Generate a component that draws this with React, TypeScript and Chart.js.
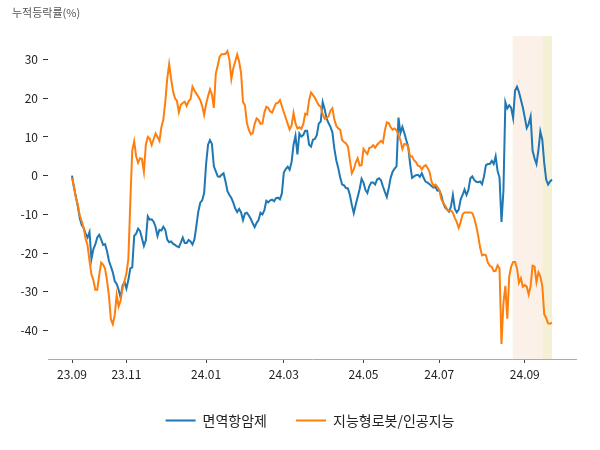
import React, { useEffect, useRef } from 'react';
import { Chart, registerables } from 'chart.js';

Chart.register(...registerables);

// x-axis: trading-day index of each month label
const tickIndex = [0, 28, 69, 109, 150, 189, 233];
const tickLabels = ['23.09', '23.11', '24.01', '24.03', '24.05', '24.07', '24.09'];
const yTicks = [-40, -30, -20, -10, 0, 10, 20, 30];
const seriesNames = ['면역항암제', '지능형로봇/인공지능'];
const axisTitle = '누적등락률(%)';

// highlighted periods (index ranges)
const bandStart = [226.8, 242];
const bandEnd = [242, 247];

const immune = [
  0, -3, -5.5, -8, -11, -12.8, -13.5, -15, -16, -14.6,
  -21.6, -19, -17.8, -16, -15.3, -16.5, -17.9, -17.7, -19.5, -22,
  -23.5, -25, -27.3, -28, -29.5, -31.5, -28.5, -27.5, -29.2, -27,
  -24, -23.7, -15.6, -15, -13.7, -14.3, -16.2, -18.2, -16.7, -10.5,
  -11.4, -11.3, -11.9, -13.2, -15.6, -14, -14.2, -13.2, -14, -16.5,
  -17.2, -17, -17.6, -17.9, -18.3, -18.5, -17.3, -16, -17.4, -17.4,
  -16.6, -17, -17.8, -16.5, -13, -9.3, -7, -6.4, -4.5, 3,
  8, 9.2, 8.2, 2.4, 1.1, -0.2, -0.3, 0.2, 0.6, -1.5,
  -4, -5, -5.8, -7, -8.5, -9.4, -8.6, -9.5, -11.5, -9.8,
  -9.6, -10.3, -11.2, -12.3, -13.3, -12.2, -11.5, -9.6, -10, -8.9,
  -6.5, -6.9, -6.4, -6.2, -6.6, -5.8, -5.7, -6.1, -4.6, 0.8,
  1.7, 2.3, 1.5, 3.5, 8, 10.3, 5.5, 10.9, 10.1, 10.5,
  11.6, 11.6, 8, 7.5, 9.3, 9.5, 10.5, 13.5, 14, 19,
  17.2, 14.8, 13.6, 12.6, 11.2, 7, 4, 2, -0.5, -2.3,
  -2.5, -3.2, -3.3, -5, -7.6, -9.7, -7.5, -5.5, -3.5, -0.8,
  -1.8, -3.7, -4.5, -2.7, -1.8, -1.8, -2.3, -1, -0.7, -1.2,
  -2.8, -4.2, -5.5, -3.2, -0.5, 1, 1.8, 2.4, 15, 11,
  12.6, 11, 9.2, 7.5, 3, -0.6, -0.2, 0.1, 0.2, -0.3,
  0.6, -0.6, -1.6, -1.8, -2.2, -2.7, -3.1, -2.9, -3.9, -3.8,
  -5, -7, -8.2, -8.8, -9.3, -8, -5, -8.6, -9.5, -8.8,
  -6.1, -5, -3.6, -5, -3.7, -0.7, -0.2, -1.1, -1.6, -1.7,
  -1.5, -2.2, -0.2, 2.7, 3, 3, 3.8, 3, 5, 1.2,
  -0.5, -12, -4, 19, 17.4, 18.2, 17.5, 14.9, 22, 23,
  21.6, 19.6, 17.6, 15, 12.3, 13.4, 15.3, 6.5, 4.5, 3,
  6.5, 11.4, 9.3, 3.3, -1, -2.3, -1.5, -1,
];

const robotAI = [
  -0.6, -2.8, -5.6, -7.5, -10.3, -11.8, -13.5, -16.3, -18, -22,
  -25.5, -27, -29.5, -29.5, -25.8, -22.5, -23, -24, -27, -31,
  -37.1, -38.4, -36, -30.8, -33.8, -32.3, -29.2, -27.3, -25.3, -21.6,
  -7, 6.5, 8.9, 5, 3.3, 4.5, 4.3, 1, 8, 10,
  9.5, 7.9, 9.4, 10.9, 10, 9, 12.5, 14.5, 19, 25,
  28.8, 25, 21.8, 20, 19.3, 16.4, 18.3, 18.8, 19.1, 18,
  19.2, 19.8, 23, 22, 21.2, 20.4, 19.5, 18, 15.7, 18.5,
  20.5, 22.3, 21, 17.5, 26.4, 28.5, 30.8, 31.4, 31.4, 31.5,
  32.2, 30, 25, 27.8, 29.5, 31.3, 29.5, 26.5, 19, 18.2,
  13.6, 11.8, 10.7, 11, 13.4, 14.8, 14.4, 13.4, 13.5, 16.3,
  17.8, 17.5, 16.6, 16.3, 17.6, 18.7, 18.8, 19.5, 18, 16.4,
  14.9, 13.4, 11.9, 13, 16.2, 13.5, 12.2, 12.5, 12.1, 13.3,
  16, 15.8, 19.5, 21.5, 20.8, 20.1, 19.1, 18.2, 17.8, 15.9,
  14.7, 14.9, 15.3, 16.8, 17.4, 14.5, 12.9, 12.2, 11.9, 9.2,
  8.7, 8.3, 7.5, 4, 0.6, 1.6, 3.4, 4.5, 2.6, 2.7,
  6.9, 6.2, 5.6, 7.2, 7.3, 7.9, 7.2, 8, 8.5, 9,
  8.5, 11.7, 13.8, 13.6, 12.5, 11.9, 12.2, 11.7, 10.5, 9.2,
  6.9, 8.2, 8.2, 7.4, 4.9, 5, 4, 3.5, 2.6, 2.4,
  1.6, 2.4, 2.7, 2, 0.9, -1.5, -2.7, -2.3, -2.9, -3.7,
  -6, -7, -7.7, -8.7, -9.1, -9, -9.6, -10.9, -12, -13.5,
  -12, -10, -9.5, -9.5, -9.5, -9.5, -9.7, -11, -13, -15.5,
  -18.5, -20.6, -20.4, -20.6, -22.5, -23.3, -23.6, -24.7, -24.6, -23.2,
  -24, -43.5, -33, -28.5, -37, -26, -23.5, -22.3, -22.3, -24,
  -27.7, -26.5, -28.7, -28.3, -28.7, -30.7, -28.5, -23.3, -23.5, -27.5,
  -25, -26, -28.5, -35.8, -36.8, -38.2, -38.3, -38,
];

const FONT = "'Noto Sans CJK KR', 'Noto Sans', sans-serif";
const bandColors = ['#fbf1e8', '#f4f0d6'];

const bandsPlugin = {
  id: 'bands',
  afterLayout(chart: any) {
    // shift the centred legend to sit under the plot like the reference
    const lg = chart.legend;
    if (lg) {
      lg.left += 22;
      lg.right += 22;
    }
  },
  beforeDraw(chart: any) {
    const { ctx, chartArea, scales } = chart;
    const x = scales.x;
    ctx.save();
    bandStart.forEach((s, i) => {
      const x0 = x.getPixelForValue(s);
      const x1 = x.getPixelForValue(bandEnd[i]);
      ctx.fillStyle = bandColors[i];
      ctx.fillRect(x0, chartArea.top, x1 - x0, chartArea.bottom - chartArea.top);
    });
    ctx.restore();
  },
  afterDraw(chart: any) {
    const { ctx } = chart;
    ctx.save();
    ctx.font = `11px ${FONT}`;
    ctx.fillStyle = '#555';
    ctx.textBaseline = 'middle';
    ctx.textAlign = 'left';
    ctx.fillText(axisTitle, 12, 13);
    ctx.restore();
  },
};

export default function App() {
  const ref = useRef<HTMLCanvasElement>(null);
  useEffect(() => {
    document.body.style.margin = '0';
    Chart.defaults.font.family = FONT;
    const chart = new Chart(ref.current as HTMLCanvasElement, {
      type: 'line',
      data: {
        datasets: [
          {
            label: seriesNames[0],
            data: immune.map((v, i) => ({ x: i, y: v })),
            borderColor: '#1f77b4',
            backgroundColor: '#1f77b4',
            borderWidth: 2,
            pointRadius: 0,
            tension: 0,
            order: 1,
          },
          {
            label: seriesNames[1],
            data: robotAI.map((v, i) => ({ x: i, y: v })),
            borderColor: '#ff7f0e',
            backgroundColor: '#ff7f0e',
            borderWidth: 2,
            pointRadius: 0,
            tension: 0,
            order: 0,
          },
        ],
      },
      options: {
        animation: false,
        responsive: false,
        layout: { padding: { top: 36, left: 0, right: 24, bottom: 12.5 } },
        plugins: {
          legend: {
            position: 'bottom',
            labels: {
              usePointStyle: true,
              pointStyle: 'line',
              pointStyleWidth: 30,
              padding: 29,
              color: '#222',
              font: { size: 14, family: FONT },
              sort: (a: any, b: any) => a.datasetIndex - b.datasetIndex,
            },
          },
          tooltip: { enabled: false },
        },
        scales: {
          x: {
            type: 'linear',
            min: -12.35,
            max: 259.35,
            afterBuildTicks: (s: any) => {
              s.ticks = tickIndex.map((v) => ({ value: v }));
            },
            afterFit: (s: any) => {
              s.height = 25.5;
            },
            ticks: {
              autoSkip: false,
              maxRotation: 0,
              padding: 4,
              color: '#222',
              font: { size: 12, family: FONT },
              callback: (v: any) => {
                const k = tickIndex.indexOf(Number(v));
                return k >= 0 ? tickLabels[k] : '';
              },
            },
            grid: { drawOnChartArea: false, drawTicks: true, tickLength: 4, color: '#444' },
            border: { display: true, color: '#aaaaaa' },
          },
          y: {
            min: -47.4,
            max: 36.1,
            afterBuildTicks: (s: any) => {
              s.ticks = yTicks.map((v) => ({ value: v }));
            },
            afterFit: (s: any) => {
              s.width = 48;
            },
            ticks: {
              padding: 5,
              color: '#222',
              font: { size: 12, family: FONT },
            },
            grid: { drawOnChartArea: false, drawTicks: true, tickLength: 5, color: '#333' },
            border: { display: false },
          },
        },
      },
      plugins: [bandsPlugin],
    } as any);
    return () => chart.destroy();
  }, []);
  return (
    <div style={{ width: 600, height: 450 }}>
      <canvas ref={ref} width={600} height={450} style={{ display: 'block' }} />
    </div>
  );
}
